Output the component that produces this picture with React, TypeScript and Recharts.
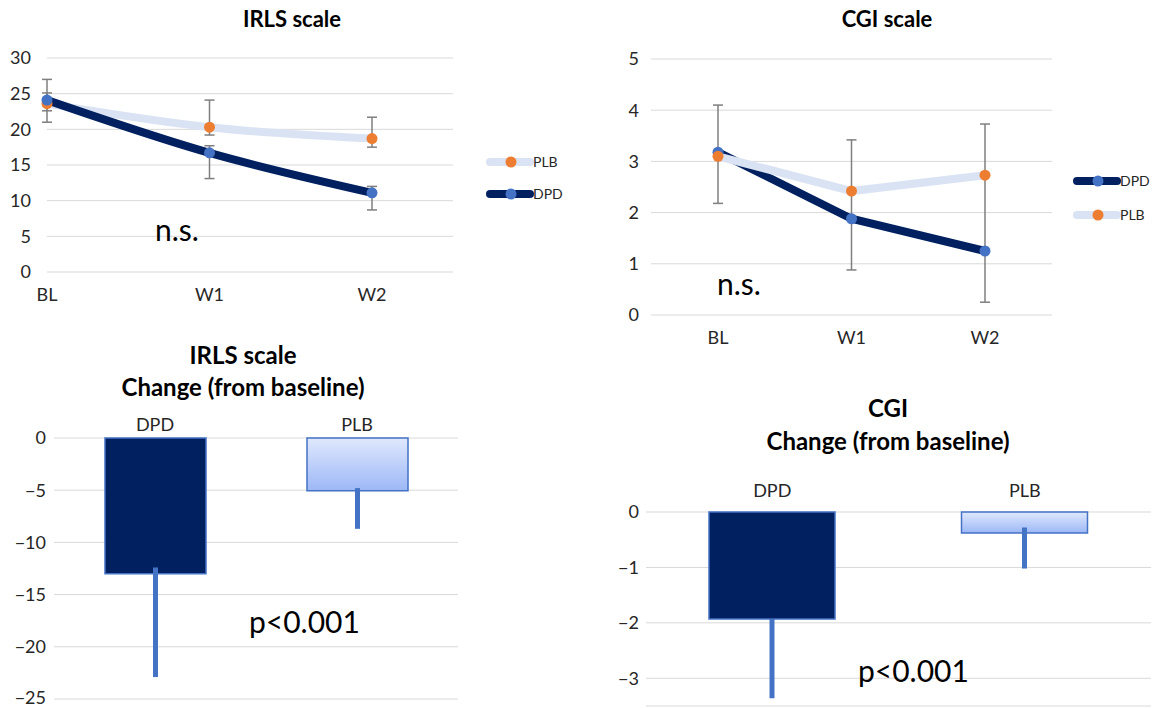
import { LineChart, Line, BarChart, Bar, Cell, XAxis, YAxis, CartesianGrid, ErrorBar } from 'recharts';

// time points for the two line charts
const timepoints = ['BL', 'W1', 'W2'];

// IRLS scale (mean, error below, error above)
const irlsPlb = [23.6, 20.3, 18.7];
const irlsPlbErrLow = [1.0, 1.1, 1.2];
const irlsPlbErrHigh = [3.4, 3.8, 3.0];
const irlsDpd = [24.1, 16.7, 11.1];
const irlsDpdErrLow = [3.1, 3.6, 2.4];
const irlsDpdErrHigh = [1.0, 1.0, 0.9];
const irlsTicks = [0, 5, 10, 15, 20, 25, 30];

// CGI scale
const cgiDpd = [3.18, 1.88, 1.25];
const cgiDpdErrLow = [1.0, 1.0, 1.0];
const cgiDpdErrHigh = [0, 0.54, 1.48];
const cgiPlb = [3.1, 2.42, 2.73];
const cgiPlbErrLow = [0, 0, 0];
const cgiPlbErrHigh = [1.0, 1.0, 1.0];
const cgiTicks = [0, 1, 2, 3, 4, 5];

// change from baseline
const groups = ['DPD', 'PLB'];
const irlsChange = [-13.0, -5.05];
const irlsChangeErrLow = [9.9, 3.65];
const irlsChangeErrHigh = [0.6, 0.25];
const irlsChangeTicks = [0, -5, -10, -15, -20, -25];
const cgiChange = [-1.93, -0.38];
const cgiChangeErrLow = [1.43, 0.64];
const cgiChangeErrHigh = [0, 0.1];
const cgiChangeTicks = [0, -1, -2, -3];

const NAVY = '#002060';
const LIGHT = '#dae3f3';
const ORANGE = '#ed7d31';
const BLUE = '#4472c4';
const GRID = '#d9d9d9';
const ERR = '#7f7f7f';
const FONT = 'Lato, sans-serif';
const TICK = { fontSize: 18, fill: '#262626', fontFamily: FONT };

const irlsRows = timepoints.map((name, i) => ({
  name,
  plb: irlsPlb[i],
  plbErr: [irlsPlbErrLow[i], irlsPlbErrHigh[i]],
  dpd: irlsDpd[i],
  dpdErr: [irlsDpdErrLow[i], irlsDpdErrHigh[i]],
}));

const cgiRows = timepoints.map((name, i) => ({
  name,
  dpd: cgiDpd[i],
  dpdErr: [cgiDpdErrLow[i], cgiDpdErrHigh[i]],
  plb: cgiPlb[i],
  plbErr: [cgiPlbErrLow[i], cgiPlbErrHigh[i]],
}));

const irlsChangeRows = groups.map((name, i) => ({
  name,
  value: irlsChange[i],
  err: [irlsChangeErrLow[i], irlsChangeErrHigh[i]],
}));

const cgiChangeRows = groups.map((name, i) => ({
  name,
  value: cgiChange[i],
  err: [cgiChangeErrLow[i], cgiChangeErrHigh[i]],
}));

const minus = (v: number) => (v < 0 ? '\u2212' + Math.abs(v) : String(v));

const plbLine = (type: 'monotone' | 'linear') => (
  <Line
    dataKey="plb"
    type={type}
    stroke={LIGHT}
    strokeWidth={8}
    dot={{ r: 5.5, fill: ORANGE, stroke: ORANGE, strokeWidth: 0 }}
    activeDot={false}
    isAnimationActive={false}
  >
    <ErrorBar dataKey="plbErr" stroke={ERR} strokeWidth={1.5} width={5} isAnimationActive={false} />
  </Line>
);

const dpdLine = (type: 'monotone' | 'linear') => (
  <Line
    dataKey="dpd"
    type={type}
    stroke={NAVY}
    strokeWidth={8}
    dot={{ r: 5.5, fill: BLUE, stroke: BLUE, strokeWidth: 0 }}
    activeDot={false}
    isAnimationActive={false}
  >
    <ErrorBar dataKey="dpdErr" stroke={ERR} strokeWidth={1.5} width={5} isAnimationActive={false} />
  </Line>
);

function LegendItem({ x, y, line, dot, label }: { x: number; y: number; line: string; dot: string; label: string }) {
  return (
    <g>
      <line x1={x} y1={y} x2={x + 40} y2={y} stroke={line} strokeWidth={8} strokeLinecap="round" />
      <circle cx={x + 21} cy={y} r={5.5} fill={dot} />
      <text x={x + 43} y={y + 5} fontSize={14} fill="#262626" fontFamily={FONT}>{label}</text>
    </g>
  );
}

export default function App() {
  return (
    <div style={{ position: 'absolute', left: 0, top: 0, width: 1153, height: 708, background: '#fff', overflow: 'hidden', fontFamily: FONT }}>
      {/* IRLS over time */}
      <div style={{ position: 'absolute', left: 0, top: 0 }}>
        <LineChart width={580} height={310} data={irlsRows} margin={{ top: 58, right: 127, bottom: 8, left: 7 }}>
          <CartesianGrid vertical={false} stroke={GRID} />
          <XAxis dataKey="name" padding={{ left: 0, right: 81 }} height={30} axisLine={false} tickLine={false} tickMargin={10} tick={TICK} />
          <YAxis domain={[0, 30]} ticks={irlsTicks} width={40} axisLine={false} tickLine={false} tickMargin={10} tick={TICK} />
          {plbLine('monotone')}
          {dpdLine('monotone')}
        </LineChart>
      </div>

      {/* CGI over time */}
      <div style={{ position: 'absolute', left: 590, top: 0 }}>
        <LineChart width={563} height={355} data={cgiRows} margin={{ top: 59, right: 101, bottom: 10, left: 11 }}>
          <CartesianGrid vertical={false} stroke={GRID} />
          <XAxis dataKey="name" padding={{ left: 67, right: 67 }} height={30} axisLine={false} tickLine={false} tickMargin={10} tick={TICK} />
          <YAxis domain={[0, 5]} ticks={cgiTicks} width={50} axisLine={false} tickLine={false} tickMargin={6} tick={TICK} />
          {dpdLine('linear')}
          {plbLine('linear')}
        </LineChart>
      </div>

      {/* IRLS change */}
      <div style={{ position: 'absolute', left: 0, top: 330 }}>
        <BarChart width={580} height={378} data={irlsChangeRows} margin={{ top: 88, right: 122, bottom: 9, left: 9 }}>
          <defs>
            <linearGradient id="plbFillA" x1="0" y1="0" x2="0" y2="1">
              <stop offset="0%" stopColor="#dfe8fd" />
              <stop offset="100%" stopColor="#9db8f7" />
            </linearGradient>
          </defs>
          <CartesianGrid vertical={false} stroke={GRID} />
          <XAxis dataKey="name" orientation="top" height={20} axisLine={false} tickLine={false} tickMargin={1} tick={TICK} />
          <YAxis domain={[-25, 0]} ticks={irlsChangeTicks} width={45} axisLine={false} tickLine={false} tickMargin={2} tick={TICK} tickFormatter={minus} />
          <Bar dataKey="value" barSize={101} stroke={BLUE} strokeWidth={1.5} isAnimationActive={false}>
            {irlsChangeRows.map((r, i) => (
              <Cell key={r.name} fill={i === 0 ? NAVY : 'url(#plbFillA)'} />
            ))}
            <ErrorBar dataKey="err" stroke={BLUE} strokeWidth={5} width={0} isAnimationActive={false} />
          </Bar>
        </BarChart>
      </div>

      {/* CGI change */}
      <div style={{ position: 'absolute', left: 590, top: 385 }}>
        <BarChart width={563} height={323} data={cgiChangeRows} margin={{ top: 97, right: 2, bottom: 2, left: 6 }}>
          <defs>
            <linearGradient id="plbFillB" x1="0" y1="0" x2="0" y2="1">
              <stop offset="0%" stopColor="#dfe8fd" />
              <stop offset="100%" stopColor="#9db8f7" />
            </linearGradient>
          </defs>
          <CartesianGrid vertical={false} stroke={GRID} />
          <XAxis dataKey="name" orientation="top" height={30} axisLine={false} tickLine={false} tickMargin={9} tick={TICK} />
          <YAxis domain={[-3.5, 0]} ticks={cgiChangeTicks} width={50} axisLine={false} tickLine={false} tickMargin={1} tick={TICK} tickFormatter={minus} />
          <Bar dataKey="value" barSize={126} stroke={BLUE} strokeWidth={1.5} isAnimationActive={false}>
            {cgiChangeRows.map((r, i) => (
              <Cell key={r.name} fill={i === 0 ? NAVY : 'url(#plbFillB)'} />
            ))}
            <ErrorBar dataKey="err" stroke={BLUE} strokeWidth={5} width={0} isAnimationActive={false} />
          </Bar>
        </BarChart>
      </div>

      {/* titles, notes and legends */}
      <svg width={1153} height={708} style={{ position: 'absolute', left: 0, top: 0, pointerEvents: 'none' }}>
        <g fontFamily={FONT} fontWeight="bold" fontSize={22} fill="#000" textAnchor="middle">
          <text x={292} y={27}>IRLS scale</text>
          <text x={887} y={27}>CGI scale</text>
          <text x={243} y={364} fontSize={24}>IRLS scale</text>
          <text x={243} y={396} fontSize={24}>Change (from baseline)</text>
          <text x={888} y={417} fontSize={24}>CGI</text>
          <text x={888} y={450} fontSize={24}>Change (from baseline)</text>
        </g>
        <g fontFamily={FONT} fill="#000">
          <text x={155} y={241} fontSize={30}>n.s.</text>
          <text x={717} y={295} fontSize={30}>n.s.</text>
          <text x={249} y={633} fontSize={30}>p&lt;0.001</text>
          <text x={858} y={682} fontSize={30}>p&lt;0.001</text>
        </g>
        <LegendItem x={490} y={162} line={LIGHT} dot={ORANGE} label="PLB" />
        <LegendItem x={490} y={194} line={NAVY} dot={BLUE} label="DPD" />
        <LegendItem x={1077} y={181} line={NAVY} dot={BLUE} label="DPD" />
        <LegendItem x={1077} y={215} line={LIGHT} dot={ORANGE} label="PLB" />
      </svg>
    </div>
  );
}
